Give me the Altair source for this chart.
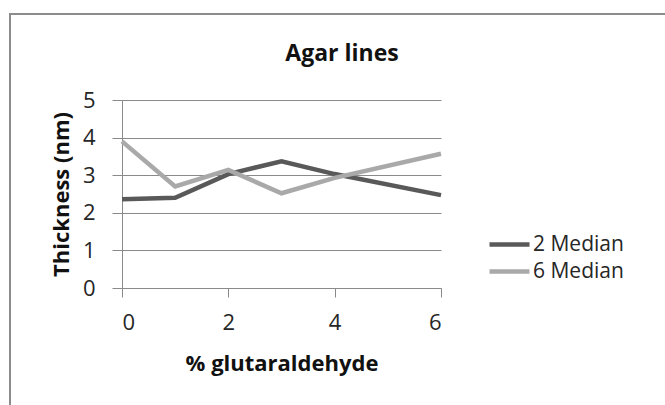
import altair as alt
import pandas as pd

x_vals = [0, 1, 2, 3, 4, 6]
median2 = [2.36, 2.40, 3.03, 3.37, 3.03, 2.47]
median6 = [3.90, 2.70, 3.14, 2.52, 2.93, 3.57]
series = ["2 Median", "6 Median"]
colors = ["#595959", "#a9a9a9"]
title_text = ["Agar lines"]

rows = []
for s, vals in zip(series, [median2, median6]):
    for x, v in zip(x_vals, vals):
        rows.append({"x": x, "y": v, "series": s})
df = pd.DataFrame(rows)

FONT = "Open Sans"
TXT = "#262626"
GRID = "#8a8a8a"

lines = alt.Chart(df).mark_line(strokeWidth=4.5).encode(
    x=alt.X("x:Q", scale=alt.Scale(domain=[0, 6], nice=False),
            axis=alt.Axis(values=[0, 2, 4, 6], title="% glutaraldehyde", grid=False,
                          tickSize=9, tickColor=GRID, domainColor=GRID,
                          labelFontSize=22, labelPadding=15, labelColor=TXT,
                          titleFontSize=22, titleFontWeight="bold", titlePadding=20,
                          titleColor="#111")),
    y=alt.Y("y:Q", scale=alt.Scale(domain=[0, 5], nice=False),
            axis=alt.Axis(values=[0, 1, 2, 3, 4, 5], title="Thickness (nm)", grid=True,
                          gridColor=GRID, tickSize=10, tickColor=GRID, domainColor=GRID,
                          labelFontSize=22, labelPadding=17, labelColor=TXT,
                          titleFontSize=22, titleFontWeight="bold", titlePadding=9,
                          titleColor="#111")),
    color=alt.Color("series:N", scale=alt.Scale(domain=series, range=colors),
                    legend=alt.Legend(title=None, orient="none", legendX=385, legendY=132,
                                      symbolType="M-3,0L1,0", symbolStrokeWidth=4.5,
                                      symbolSize=400, labelFontSize=21, labelColor=TXT,
                                      rowPadding=4, labelOffset=1)),
)

border = alt.Chart(pd.DataFrame({"a": [0]})).mark_rect(
    fill=None, stroke="#8c8c8c", strokeWidth=2
).encode(
    x=alt.value(-112), x2=alt.value(560), y=alt.value(-86), y2=alt.value(320)
)

title = alt.Chart(pd.DataFrame({"t": title_text})).mark_text(
    font=FONT, fontSize=23, fontWeight="bold", color="#111",
    align="center", baseline="middle"
).encode(
    text="t:N", x=alt.value(220), y=alt.value(-46)
)

chart = alt.layer(border, lines, title).properties(
    width=319, height=188,
    autosize=alt.AutoSizeParams(type="none"),
    padding={"left": 122, "top": 100, "right": 224, "bottom": 117},
).configure(font=FONT).configure_view(stroke=None).configure_axis(
    labelFont=FONT, titleFont=FONT
).configure_legend(labelFont=FONT)

chart.save("out.html", embed_options={"renderer": "svg", "actions": False})
